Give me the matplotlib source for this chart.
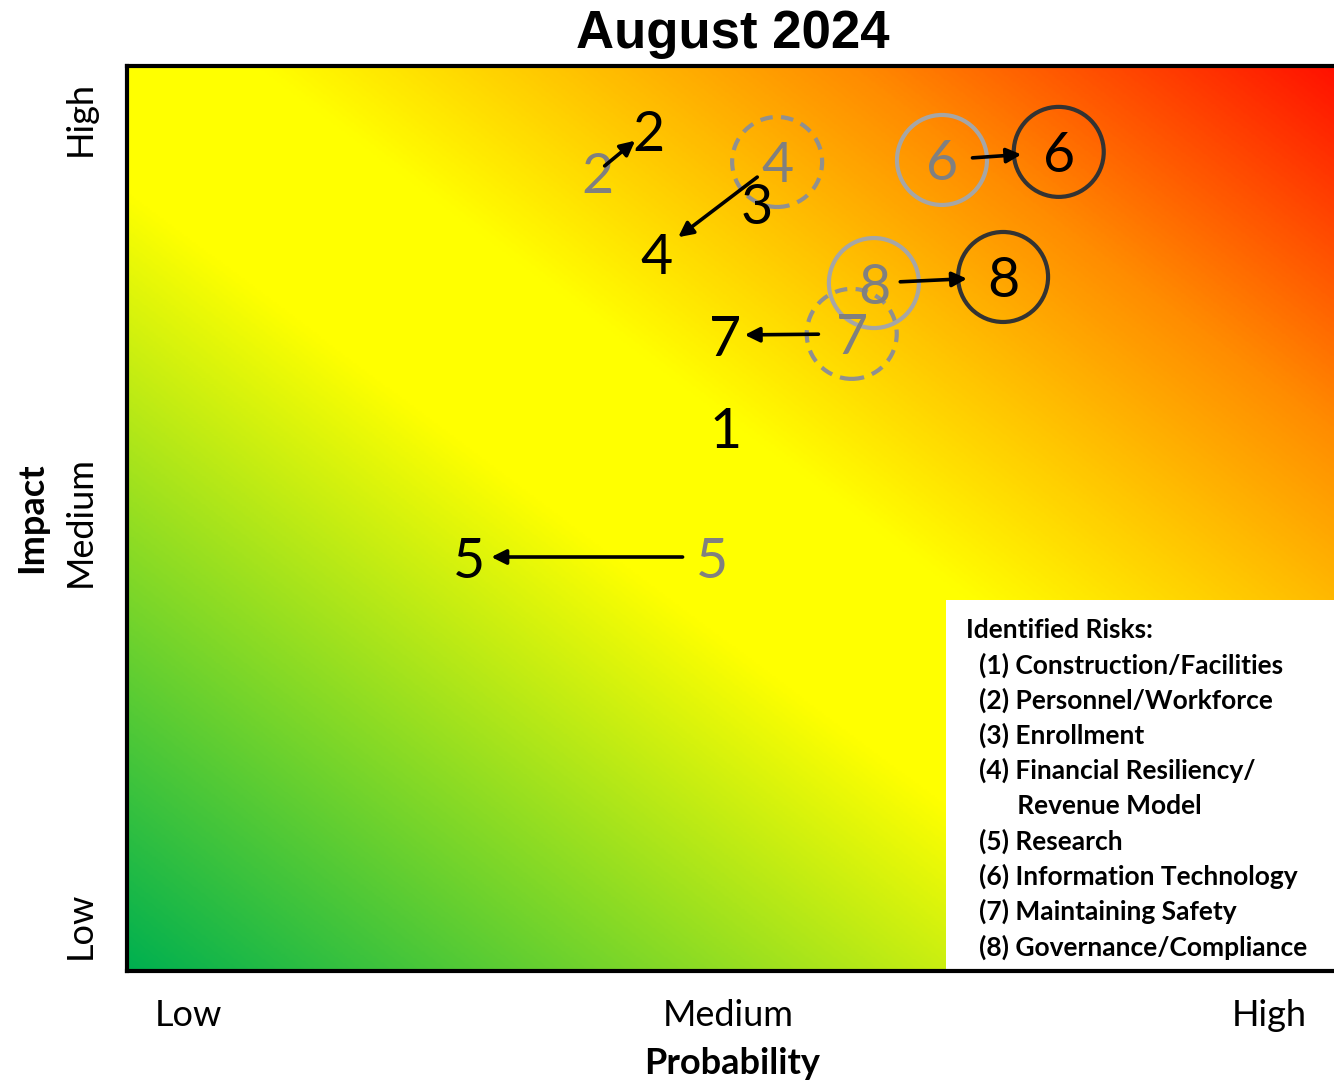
import numpy as np
import matplotlib
matplotlib.use("Agg")
import matplotlib.pyplot as plt
from matplotlib.colors import LinearSegmentedColormap
from matplotlib.patches import Ellipse, Rectangle

plt.rcParams['font.family'] = ['Lato', 'DejaVu Sans']

# ---------------- data ----------------
title = "August 2024"
level_labels = ["Low", "Medium", "High"]
level_values = [1, 2, 3]

risk_ids = ["1", "2", "3", "4", "5", "6", "7", "8"]
cur_prob = [1.994, 1.851, 2.053, 1.866, 1.520, 2.611, 1.994, 2.508]
cur_impact = [2.232, 2.970, 2.789, 2.663, 1.912, 2.916, 2.462, 2.606]
cur_circled = [False, False, False, False, False, True, False, True]

prev_ids = ["2", "4", "5", "6", "7", "8"]
prev_prob = [1.757, 2.090, 1.969, 2.395, 2.228, 2.269]
prev_impact = [2.866, 2.891, 1.912, 2.896, 2.465, 2.591]
prev_circle = ["none", "dashed", "none", "solid", "dashed", "solid"]

legend_title = "Identified Risks:"
legend_items = ["(1) Construction/Facilities", "(2) Personnel/Workforce",
                "(3) Enrollment", "(4) Financial Resiliency/",
                "      Revenue Model", "(5) Research",
                "(6) Information Technology", "(7) Maintaining Safety",
                "(8) Governance/Compliance"]

# ---------------- figure ----------------
W, H = 1334, 1084
fig = plt.figure(figsize=(W / 100, H / 100), dpi=100)
ax_l, ax_r, ax_t, ax_b = 127, 1334, 66, 971
ax = fig.add_axes([ax_l / W, 1 - ax_b / H, (ax_r - ax_l) / W, (ax_b - ax_t) / H])

xmin, xmax = 1 - (188 - 127) / 540.5, 3 + (1334 - 1269) / 540.5
ymin, ymax = 1 - (971 - 925) / 403.5, 3 + (118 - 66) / 403.5
ax.set_xlim(xmin, xmax)
ax.set_ylim(ymin, ymax)

# gradient background
stops = [(0.0, (0 / 255, 176 / 255, 80 / 255)),
         (0.43, (1, 1, 0)),
         (0.555, (1, 1, 0)),
         (0.80, (1, 0.55, 0)),
         (1.0, (1, 0.07, 0))]
cmap = LinearSegmentedColormap.from_list("risk", stops)
u = np.linspace(0, 1, 600)
v = np.linspace(0, 1, 450)
U, V = np.meshgrid(u, v)
T = (U + V) / 2
ax.imshow(T, cmap=cmap, vmin=0, vmax=1, extent=[xmin, xmax, ymin, ymax],
          origin='lower', aspect='auto', interpolation='bilinear', zorder=0)

# circle sizes in data units (radius ~45 px)
rx = 45 / 540.5
ry = 45 / 403.5

# previous positions (grey)
for rid, px, py, cs in zip(prev_ids, prev_prob, prev_impact, prev_circle):
    ax.text(px, py, rid, fontsize=40, color='#808080', ha='center',
            va='center_baseline', zorder=3)
    if cs != "none":
        ax.add_patch(Ellipse((px, py), 2 * rx, 2 * ry, fill=False,
                             edgecolor='#A6A6A6' if cs == 'solid' else '#909090',
                             lw=3, linestyle=(0, (3, 2)) if cs == 'dashed' else '-',
                             zorder=2))

# current positions (black)
for rid, px, py, circ in zip(risk_ids, cur_prob, cur_impact, cur_circled):
    ax.text(px, py, rid, fontsize=40, color='black', ha='center',
            va='center_baseline', zorder=4)
    if circ:
        ax.add_patch(Ellipse((px, py), 2 * rx, 2 * ry, fill=False,
                             edgecolor='#333333', lw=3, zorder=2))

# arrows from previous to current position
shrink_a = {"2": 7, "4": 18, "5": 21, "6": 22, "7": 24, "8": 19}
shrink_b = {"2": 12, "4": 20, "5": 16, "6": 27, "7": 14, "8": 26}
for rid, px, py in zip(prev_ids, prev_prob, prev_impact):
    i = risk_ids.index(rid)
    ax.annotate("", xy=(cur_prob[i], cur_impact[i]), xytext=(px, py),
                arrowprops=dict(arrowstyle='-|>', color='black', lw=2.6,
                                mutation_scale=22,
                                shrinkA=shrink_a[rid], shrinkB=shrink_b[rid]),
                zorder=5)

# legend box
lx0 = (946 - ax_l) / (ax_r - ax_l)
ly1 = (ax_b - 600) / (ax_b - ax_t)
ax.add_patch(Rectangle((lx0, 0), 1 - lx0, ly1, transform=ax.transAxes,
                       facecolor='white', edgecolor='none', zorder=6))
fig.text(966 / W, 1 - 630 / H, legend_title, fontsize=19, fontweight='bold',
         ha='left', va='center', zorder=7)
for k, item in enumerate(legend_items):
    yy = 665 + k * 35.25
    fig.text(979 / W, 1 - yy / H, item, fontsize=19, fontweight='bold',
             ha='left', va='center', zorder=7)

# ticks
ax.set_xticks(level_values)
ax.set_xticklabels(level_labels, fontsize=26)
ax.set_yticks(level_values)
ax.set_yticklabels(level_labels, fontsize=26, rotation=90, va='center')
ax.tick_params(axis='x', length=0, pad=20)
ax.tick_params(axis='y', length=0, pad=22)

for side in ['left', 'top', 'bottom']:
    ax.spines[side].set_linewidth(3)
    ax.spines[side].set_color('black')
    ax.spines[side].set_zorder(10)
ax.spines['right'].set_visible(False)

fig.text(733 / W, 1 - 34 / H, title, fontsize=38, fontweight='bold',
         family='Liberation Sans', ha='center', va='center')
fig.text(732 / W, 1 - 1063 / H, "Probability", fontsize=26, fontweight='bold',
         ha='center', va='center')
fig.text(32 / W, 1 - 518 / H, "Impact", fontsize=26, fontweight='bold',
         ha='center', va='center', rotation=90)

fig.savefig("out.png", dpi=100)
